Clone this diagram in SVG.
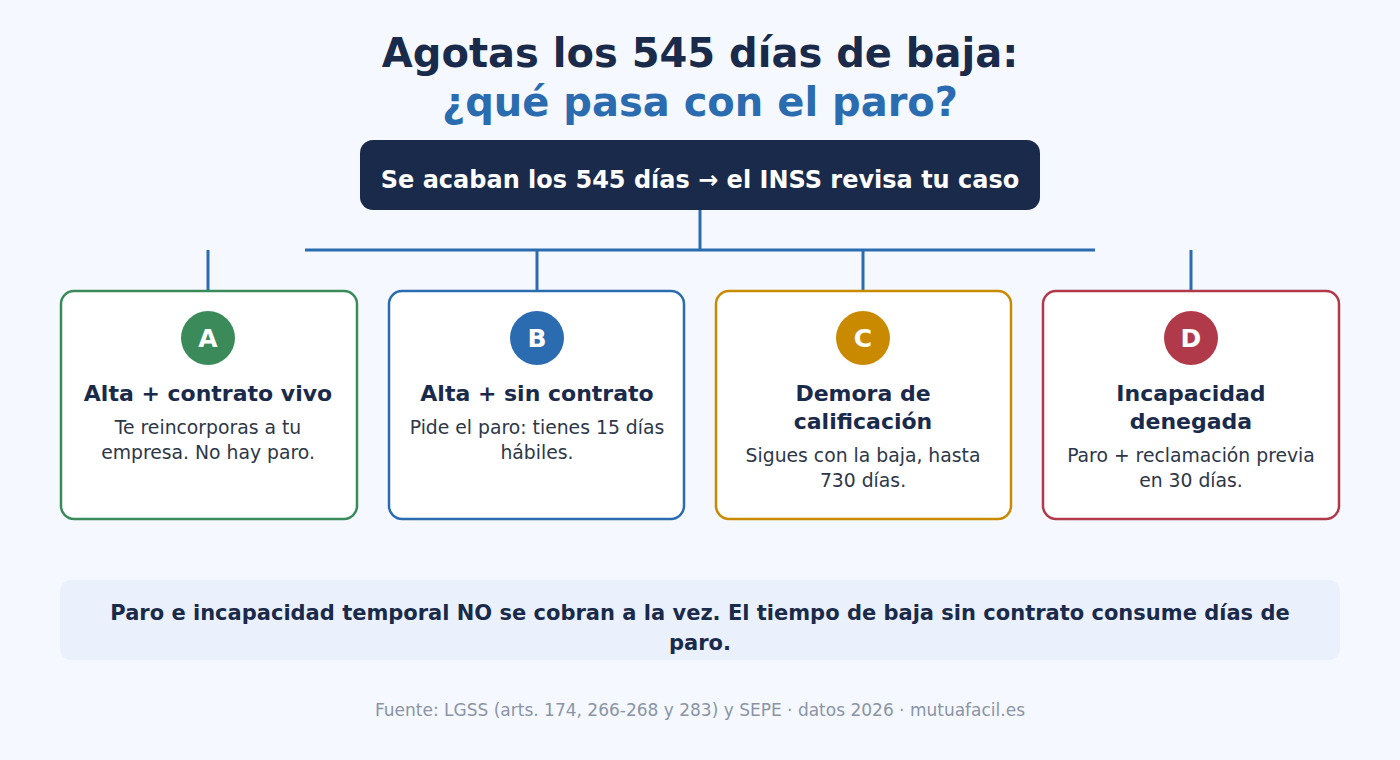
<svg xmlns="http://www.w3.org/2000/svg" width="1400" height="760" viewBox="0 0 1400 760">
<style>
text{font-family:"DejaVu Sans","Liberation Sans",sans-serif;text-anchor:middle}
.t1{font-size:40px;font-weight:bold;fill:#1a2a4a}
.t2{font-size:40px;font-weight:bold;fill:#2b6cb0}
.card{fill:#ffffff;stroke-width:2.5}
.ct{font-size:22px;font-weight:bold;fill:#1a2a4a}
.cd{font-size:18.8px;fill:#2d3748}
.badge{font-size:25px;font-weight:bold;fill:#ffffff}
.conn{stroke:#2b6cb0;stroke-width:3;fill:none}
</style>
<rect width="1400" height="760" fill="#f5f8fe"/>
<text class="t1" x="700" y="67">Agotas los 545 días de baja:</text>
<text class="t2" x="700" y="116">¿qué pasa con el paro?</text>
<g id="root">
<rect x="360" y="140" width="680" height="70" rx="13" fill="#1a2a4a"/>
<text x="700" y="188" font-size="24" font-weight="bold" fill="#ffffff">Se acaban los 545 días → el INSS revisa tu caso</text>
</g>
<g id="connectors">
<line class="conn" x1="700" y1="210" x2="700" y2="250"/>
<line class="conn" x1="305" y1="250" x2="1095" y2="250"/>
<line class="conn" x1="208" y1="250" x2="208" y2="291"/>
<line class="conn" x1="537" y1="250" x2="537" y2="291"/>
<line class="conn" x1="863" y1="250" x2="863" y2="291"/>
<line class="conn" x1="1191" y1="250" x2="1191" y2="291"/>
</g>
<g id="cardA">
<rect class="card" x="61" y="291" width="296" height="228" rx="13" stroke="#3a8a5a"/>
<circle cx="208" cy="338" r="27" fill="#3a8a5a"/>
<text class="badge" x="208" y="347">A</text>
<text class="ct" x="208" y="401">Alta + contrato vivo</text>
<text class="cd" x="208" y="434">Te reincorporas a tu</text>
<text class="cd" x="208" y="459">empresa. No hay paro.</text>
</g>
<g id="cardB">
<rect class="card" x="389" y="291" width="295" height="228" rx="13" stroke="#2b6cb0"/>
<circle cx="537" cy="338" r="27" fill="#2b6cb0"/>
<text class="badge" x="537" y="347">B</text>
<text class="ct" x="537" y="401">Alta + sin contrato</text>
<text class="cd" x="537" y="434">Pide el paro: tienes 15 días</text>
<text class="cd" x="537" y="459">hábiles.</text>
</g>
<g id="cardC">
<rect class="card" x="716" y="291" width="295" height="228" rx="13" stroke="#c98a00"/>
<circle cx="863" cy="338" r="27" fill="#c98a00"/>
<text class="badge" x="863" y="347">C</text>
<text class="ct" x="863" y="401">Demora de</text>
<text class="ct" x="863" y="429">calificación</text>
<text class="cd" x="863" y="462">Sigues con la baja, hasta</text>
<text class="cd" x="863" y="487">730 días.</text>
</g>
<g id="cardD">
<rect class="card" x="1043" y="291" width="296" height="228" rx="13" stroke="#b03a4a"/>
<circle cx="1191" cy="338" r="27" fill="#b03a4a"/>
<text class="badge" x="1191" y="347">D</text>
<text class="ct" x="1191" y="401">Incapacidad</text>
<text class="ct" x="1191" y="429">denegada</text>
<text class="cd" x="1191" y="462">Paro + reclamación previa</text>
<text class="cd" x="1191" y="487">en 30 días.</text>
</g>
<g id="note">
<rect x="60" y="580" width="1280" height="80" rx="11" fill="#ebf1fc"/>
<text x="700" y="620" font-size="21" font-weight="bold" fill="#1a2a4a">Paro e incapacidad temporal NO se cobran a la vez. El tiempo de baja sin contrato consume días de</text>
<text x="700" y="650" font-size="21" font-weight="bold" fill="#1a2a4a">paro.</text>
</g>
<text x="700" y="716" font-size="17" fill="#8a94a6">Fuente: LGSS (arts. 174, 266-268 y 283) y SEPE · datos 2026 · mutuafacil.es</text>
</svg>
